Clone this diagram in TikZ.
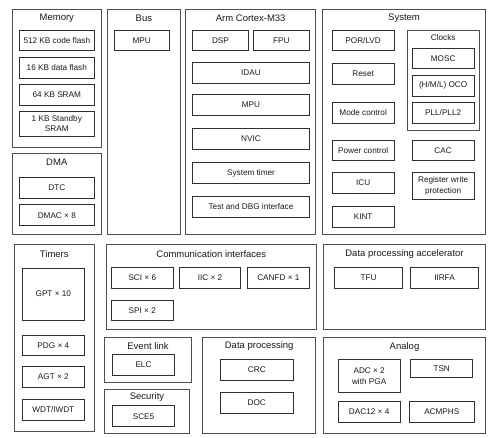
\documentclass[tikz,border=0pt]{standalone}
\usepackage{fontspec}
\setmainfont{Liberation Sans}
\usetikzlibrary{positioning}
\definecolor{groupline}{HTML}{505050}
\definecolor{unitline}{HTML}{2E2E2E}
\begin{document}
\begin{tikzpicture}
    	[x=1pt, y=-1pt,
    		group/.style={
    		  rectangle,
    		  draw=groupline,
    		  line width=0.9pt,
    		  inner sep=0pt
    		},
    		unit/.style={
    		  rectangle,
    		  draw=unitline,
    		  line width=0.8pt,
    		  text=black!90,
    		  align=center,
    		  inner sep=0pt,
    		  minimum width=61.7pt,
    		  minimum height=20.7pt,
    		  font=\fontsize{8.2}{10.5}\selectfont
    		},
    		title/.style={
    		  text=black!90,
    		  inner sep=0pt,
    		  font=\fontsize{9.5}{11}\selectfont
    		}
    	]
    	\useasboundingbox (0,0) rectangle (493,438);

    	% top row
    	\node[group, minimum width=89pt, minimum height=138.4pt] (mem) at (56.8,78.5) {};
    	\node[title] (memT) at (56.8,18.3) {Memory};
    	\node[unit, minimum width=75pt] (codeflash) at (56.8,40.35) {512 KB code flash};
    	\node[unit, minimum width=75pt] (dataflash) at (56.8,67.65) {16 KB data flash};
    	\node[unit, minimum width=75pt] (sram) at (56.8,94.65) {64 KB SRAM};
    	\node[unit, minimum width=75pt, minimum height=24.7pt] (stbysram) at (56.8,123.65) {1 KB Standby\\SRAM};

    	\node[group, minimum width=89pt, minimum height=80.7pt] (dma) at (56.8,193.7) {};
    	\node[title] (dmaT) at (56.8,162.7) {DMA};
    	\node[unit, minimum width=75pt, minimum height=21pt] (dtc) at (56.8,187.8) {DTC};
    	\node[unit, minimum width=75pt, minimum height=21pt] (dmac) at (56.8,215.2) {DMAC × 8};

    	\node[group, minimum width=73.7pt, minimum height=224.7pt] (bus) at (143.85,121.65) {};
    	\node[title] (busT) at (143.85,18.3) {Bus};
    	\node[unit, minimum width=54.7pt] (busmpu) at (141.65,40.35) {MPU};

    	\node[group, minimum width=130pt, minimum height=224.7pt] (arm) at (250.7,121.65) {};
    	\node[title] (armT) at (250.7,18.3) {Arm Cortex-M33};
    	\node[unit, minimum width=55.6pt] (dsp) at (220.5,40.35) {DSP};
    	\node[unit, minimum width=56pt] (fpu) at (281.3,40.35) {FPU};
    	\node[unit, minimum width=116.6pt] (idau) at (251,72.65) {IDAU};
    	\node[unit, minimum width=116.6pt] (armmpu) at (251,104.8) {MPU};
    	\node[unit, minimum width=116.6pt] (nvic) at (251,139.15) {NVIC};
    	\node[unit, minimum width=116.6pt] (systimer) at (251,173) {System timer};
    	\node[unit, minimum width=116.6pt] (dbg) at (251,207) {Test and DBG interface};

    	\node[group, minimum width=163.4pt, minimum height=224.7pt] (sys) at (404,121.65) {};
    	\node[title] (sysT) at (404,18.3) {System};
    	\node[unit] (porlvd) at (363.15,40.35) {POR/LVD};
    	\node[unit] (reset) at (363.15,73.65) {Reset};
    	\node[unit] (mode) at (363.15,112.65) {Mode control};
    	\node[unit] (power) at (363.15,150.35) {Power control};
    	\node[unit] (icu) at (363.15,183) {ICU};
    	\node[unit] (kint) at (363.15,217) {KINT};
    	\node[group, minimum width=71.7pt, minimum height=100pt] (clk) at (443.15,80) {};
    	\node[title, font=\fontsize{8.2}{10}\selectfont] (clkT) at (443.15,37.7) {Clocks};
    	\node[unit] (mosc) at (443.15,58.5) {MOSC};
    	\node[unit] (oco) at (443.15,85.65) {(H/M/L) OCO};
    	\node[unit] (pll) at (443.15,112.65) {PLL/PLL2};
    	\node[unit] (cac) at (443.15,150.35) {CAC};
    	\node[unit, minimum height=26.6pt] (regwp) at (443.15,186) {Register write\\protection};

    	% bottom half
    	\node[group, minimum width=80pt, minimum height=187.4pt] (tim) at (54.3,338) {};
    	\node[title] (timT) at (54.3,253.7) {Timers};
    	\node[unit, minimum width=62pt, minimum height=51.7pt] (gpt) at (53.3,294.15) {GPT × 10};
    	\node[unit, minimum width=62pt] (pdg) at (53.3,345.35) {PDG × 4};
    	\node[unit, minimum width=62pt] (agt) at (53.3,377) {AGT × 2};
    	\node[unit, minimum width=62pt] (wdt) at (53.3,409.65) {WDT/IWDT};

    	\node[group, minimum width=210.7pt, minimum height=85pt] (comm) at (211.35,286.8) {};
    	\node[title] (commT) at (211.35,253.7) {Communication interfaces};
    	\node[unit, minimum width=62pt] (sci) at (142.3,278) {SCI × 6};
    	\node[unit, minimum width=61.4pt] (iic) at (210,278) {IIC × 2};
    	\node[unit, minimum width=61.3pt] (canfd) at (278.35,278) {CANFD × 1};
    	\node[unit, minimum width=62pt] (spi) at (142.3,310.35) {SPI × 2};

    	\node[group, minimum width=162.4pt, minimum height=85pt] (dpa) at (404.5,286.8) {};
    	\node[title] (dpaT) at (404.5,253.7) {Data processing accelerator};
    	\node[unit, minimum width=68.4pt] (tfu) at (368.5,278) {TFU};
    	\node[unit, minimum width=67.6pt] (iirfa) at (444.5,278) {IIRFA};

    	\node[group, minimum width=87.4pt, minimum height=44.6pt] (evt) at (148,360) {};
    	\node[title] (evtT) at (148,346.3) {Event link};
    	\node[unit, minimum width=61.6pt] (elc) at (143.5,365) {ELC};

    	\node[group, minimum width=85.4pt, minimum height=44.3pt] (sec) at (147,411.15) {};
    	\node[title] (secT) at (147,397.3) {Security};
    	\node[unit, minimum width=61.6pt] (sce) at (143.5,416.2) {SCE5};

    	\node[group, minimum width=113pt, minimum height=95.6pt] (dp) at (259.2,385.5) {};
    	\node[title] (dpT) at (259.2,346.3) {Data processing};
    	\node[unit, minimum width=73pt] (crc) at (256.8,369.65) {CRC};
    	\node[unit, minimum width=73pt] (doc) at (256.8,403) {DOC};

    	\node[group, minimum width=162.4pt, minimum height=95.6pt] (ana) at (404.5,385.5) {};
    	\node[title] (anaT) at (404.5,346.7) {Analog};
    	\node[unit, minimum height=33.4pt] (adc) at (369.15,376) {ADC × 2\\with PGA};
    	\node[unit, minimum width=62pt, minimum height=18pt] (tsn) at (441.7,368.3) {TSN};
    	\node[unit, minimum height=21.3pt] (dac) at (369.15,411.65) {DAC12 × 4};
    	\node[unit, minimum width=65pt, minimum height=21.3pt] (acmphs) at (441.8,411.65) {ACMPHS};
    \end{tikzpicture}
\end{document}
